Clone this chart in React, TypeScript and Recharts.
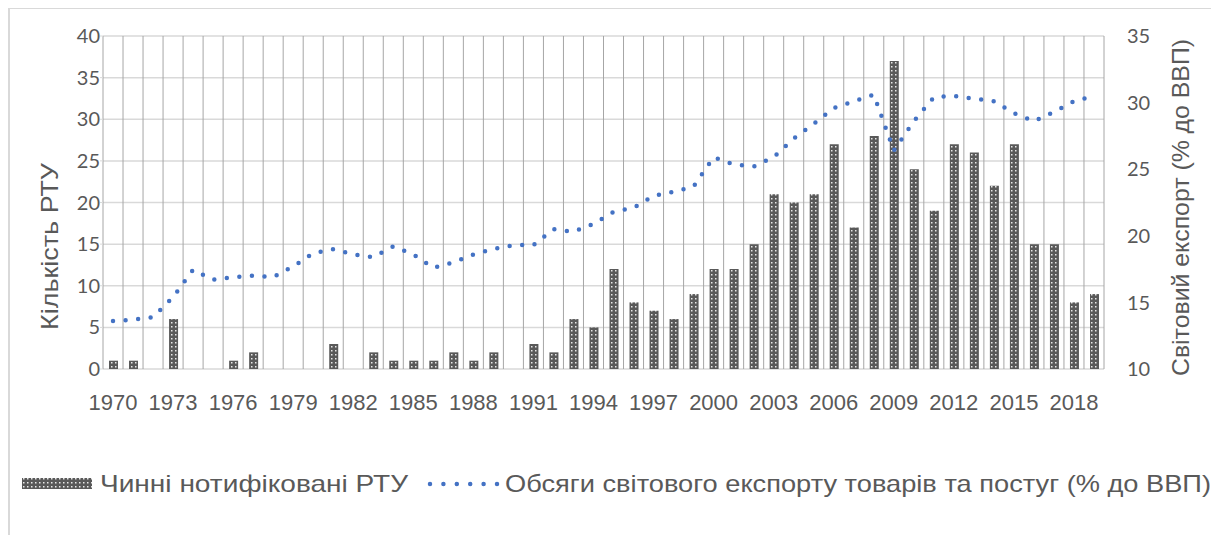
import React from "react";
import { ComposedChart, Bar, Line, XAxis, YAxis, CartesianGrid, Legend } from "recharts";

const years = [
  "1970", "1971", "1972", "1973", "1974", "1975", "1976", "1977", "1978", "1979",
  "1980", "1981", "1982", "1983", "1984", "1985", "1986", "1987", "1988", "1989",
  "1990", "1991", "1992", "1993", "1994", "1995", "1996", "1997", "1998", "1999",
  "2000", "2001", "2002", "2003", "2004", "2005", "2006", "2007", "2008", "2009",
  "2010", "2011", "2012", "2013", "2014", "2015", "2016", "2017", "2018", "2019",
];

// notified RTAs in force, by year of entry
const rtaInForce = [
  1, 1, 0, 6, 0, 0, 1, 2, 0, 0,
  0, 3, 0, 2, 1, 1, 1, 2, 1, 2,
  0, 3, 2, 6, 5, 12, 8, 7, 6, 9,
  12, 12, 15, 21, 20, 21, 27, 17, 28, 37,
  24, 19, 27, 26, 22, 27, 15, 15, 8, 9,
];

// world exports of goods and services, % of GDP
const exportShare = [
  13.6, 13.7, 13.9, 15.4, 17.45, 16.7, 16.9, 17.0, 16.9, 17.7,
  18.7, 19.0, 18.6, 18.4, 19.2, 18.6, 17.6, 18.0, 18.6, 19.0,
  19.3, 19.3, 20.5, 20.3, 20.9, 21.8, 22.1, 23.0, 23.3, 23.7,
  25.9, 25.35, 25.2, 25.9, 27.3, 28.4, 29.6, 30.1, 30.6, 26.4,
  28.6, 30.4, 30.5, 30.3, 30.1, 29.2, 28.6, 29.3, 30.1, 30.5,
];

const leftTicks = [0, 5, 10, 15, 20, 25, 30, 35, 40];
const rightTicks = [10, 15, 20, 25, 30, 35];

const barName = "Чинні нотифіковані РТУ";
const lineName = "Обсяги світового експорту товарів та постуг (% до ВВП)";
const leftTitle = "Кількість РТУ";
const rightTitle = "Світовий експорт (% до ВВП)";

const data = years.map((year, i) => ({
  year,
  rta: rtaInForce[i] || null,
  exports: exportShare[i],
}));

const grey = "#595959";
const blue = "#4472C4";
// no serif face in the sandbox, so the Times-like text is stretched to its original length
const textFont = "'Liberation Sans', Arial, sans-serif";
const tickFont = "Lato, 'Open Sans', sans-serif";

const axisTitle = (text: string, dx: number, dy: number, len: number) => (props: any) => {
  const vb = props.viewBox;
  const cx = vb.x + dx;
  const cy = vb.y + vb.height / 2 + dy;
  return (
    <text
      x={cx}
      y={cy}
      transform={`rotate(-90 ${cx} ${cy})`}
      textAnchor="middle"
      dominantBaseline="central"
      textLength={len}
      lengthAdjust="spacingAndGlyphs"
      fill={grey}
      style={{ fontSize: 24, fontFamily: textFont }}
    >
      {text}
    </text>
  );
};

const LegendBox = () => (
  <svg width={1209} height={30} style={{ display: "block" }}>
    <rect x={12} y={9} width={70} height={11} fill="url(#rtaDots)" />
    <text x={90} y={23} textLength={308} lengthAdjust="spacingAndGlyphs" fill={grey} style={{ fontSize: 24, fontFamily: textFont }}>
      {barName}
    </text>
    <line x1={420} y1={15} x2={487} y2={15} stroke={blue} strokeWidth={4.5} strokeLinecap="round" strokeDasharray="0 13.4" />
    <text x={495} y={23} textLength={706} lengthAdjust="spacingAndGlyphs" fill={grey} style={{ fontSize: 24, fontFamily: textFont }}>
      {lineName}
    </text>
  </svg>
);

export default function App() {
  const n = years.length;
  return (
    <div style={{ width: 1211, height: 526, borderTop: "2px solid #d9d9d9", borderLeft: "2px solid #d9d9d9", marginTop: -1 }}>
      <style>{"html,body{overflow:hidden}"}</style>
      <ComposedChart width={1209} height={524} data={data} margin={{ top: 27, right: 35, left: 33, bottom: 34 }}>
        <defs>
          <pattern id="rtaDots" width={4} height={4} patternUnits="userSpaceOnUse">
            <rect width={4} height={4} fill={grey} />
            <rect x={1} y={1} width={1.5} height={1.5} fill="#e8e8e8" />
          </pattern>
        </defs>
        <CartesianGrid yAxisId="left" vertical={false} stroke="#d9d9d9" strokeWidth={1.5} />
        <CartesianGrid
          yAxisId="left"
          horizontal={false}
          stroke="#a6a6a6"
          verticalCoordinatesGenerator={({ offset }: any) =>
            Array.from({ length: n + 1 }, (_, i) => offset.left + (offset.width * i) / n)
          }
        />
        <XAxis
          dataKey="year"
          interval={2}
          axisLine={false}
          tickLine={false}
          tickSize={6}
          tickMargin={19}
          height={100}
          tick={{ fill: grey, fontSize: 22, style: { fontFamily: textFont } }}
        />
        <YAxis
          yAxisId="left"
          domain={[0, 40]}
          ticks={leftTicks}
          width={60}
          axisLine={false}
          tickLine={{ stroke: "#d9d9d9" }}
          tickSize={3}
          tickMargin={0}
          tick={{ fill: grey, fontSize: 20, style: { fontFamily: tickFont } }}
          label={{ content: axisTitle(leftTitle, 6, 44, 167) }}
        />
        <YAxis
          yAxisId="right"
          orientation="right"
          domain={[10, 35]}
          ticks={rightTicks}
          width={80}
          axisLine={false}
          tickLine={false}
          tickSize={6}
          tickMargin={17}
          tick={{ fill: grey, fontSize: 20, textAnchor: "start", style: { fontFamily: tickFont } }}
          label={{ content: axisTitle(rightTitle, 76, 5, 337) }}
        />
        <Legend verticalAlign="bottom" wrapperStyle={{ left: 0, width: 1209 }} content={() => <LegendBox />} />
        <Bar yAxisId="left" dataKey="rta" name={barName} fill="url(#rtaDots)" barSize={9} isAnimationActive={false} />
        <Line
          yAxisId="right"
          type="linear"
          dataKey="exports"
          name={lineName}
          stroke={blue}
          strokeWidth={4.5}
          strokeLinecap="round"
          strokeDasharray="0 12.6"
          dot={false}
          activeDot={false}
          isAnimationActive={false}
        />
      </ComposedChart>
    </div>
  );
}
